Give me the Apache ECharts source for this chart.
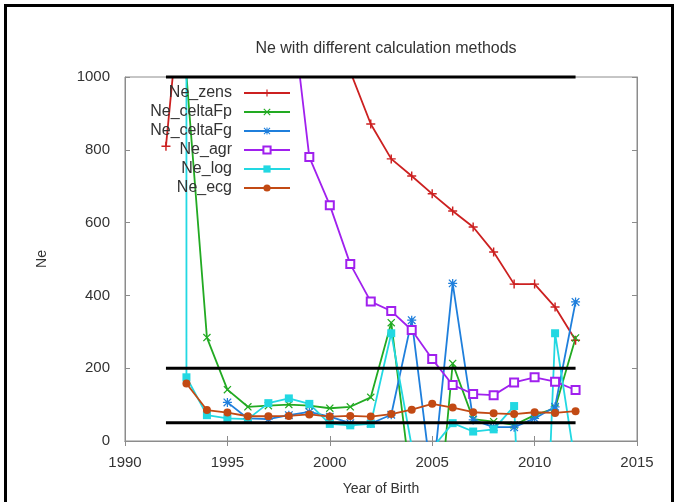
<!DOCTYPE html>
<html>
<head>
<meta charset="utf-8">
<script src="https://cdn.jsdelivr.net/npm/echarts@6/dist/echarts.min.js"></script>
<style>
html,body{margin:0;padding:0;background:#fff;}
#chart{width:675px;height:502px;}
</style>
</head>
<body>
<div id="chart"></div>
<script>
// ---- data ----
var years = [1992,1993,1994,1995,1996,1997,1998,1999,2000,2001,2002,2003,2004,2005,2006,2007,2008,2009,2010,2011,2012];
var neZens    = [810,1390,null,null,null,null,null,null,null,1015,871,775,728,679,632,588,519,431,431,368,277];
var neCeltaFp = [null,1005,284,141,94,97,100,97,90,94,120,325,-133,-400,213,60,53,44,71,90,283];
var neCeltaFg = [null,null,null,106,62,60,71,80,67,49,48,72,332,-120,433,58,38,38,62,94,382];
var neAgr     = [null,null,null,null,null,null,1260,780,648,486,383,357,305,225,154,129,126,161,175,163,140];
var neLog     = [null,175,71,62,60,104,117,102,47,43,47,296,-15,-20,49,26,32,96,-1100,296,-69];
var neLogLead = [1993, 1150];  // vertical rise at 1993 in the reference
var neEcg     = [null,158,85,78,68,68,69,73,67,69,67,74,86,102,92,79,76,74,79,77,82];
var thresholds = [1000, 200, 50];
var thresholdRange = [1992, 2012];
var xTicks = [1990, 2015, 5];
var yTicks = [0, 1000, 200];

var names = ['Ne_zens','Ne_celtaFp','Ne_celtaFg','Ne_agr','Ne_log','Ne_ecg'];
var colors = ['#cc2020','#22aa22','#1f7fdc','#a020ee','#22d8e2','#c24a14'];

function pairs(vals, keepNulls) {
  var out = [];
  for (var i = 0; i < years.length; i++) {
    if (vals[i] === null && !keepNulls) continue;
    out.push([years[i], vals[i] === null ? '-' : vals[i]]);
  }
  return out;
}

var plusPath = 'path://M4.2,0H5.8V4.2H10V5.8H5.8V10H4.2V5.8H0V4.2H4.2Z';
var xPath = 'path://M0,1.1L1.1,0L5,3.9L8.9,0L10,1.1L6.1,5L10,8.9L8.9,10L5,6.1L1.1,10L0,8.9L3.9,5Z';
var starPath = 'path://M4.3,0H5.7V4.3H10V5.7H5.7V10H4.3V5.7H0V4.3H4.3Z M0.3,1.3L1.3,0.3L5,4L8.7,0.3L9.7,1.3L6,5L9.7,8.7L8.7,9.7L5,6L1.3,9.7L0.3,8.7L4,5Z';

var logData = [neLogLead].concat(pairs(neLog, false));

var seriesDefs = [
  {data: pairs(neZens, true), symbol: plusPath, size: 9},
  {data: pairs(neCeltaFp, true), symbol: xPath, size: 8},
  {data: pairs(neCeltaFg, true), symbol: starPath, size: 9},
  {data: pairs(neAgr, true), symbol: 'emptyRect', size: 8},
  {data: logData, symbol: 'rect', size: 8},
  {data: pairs(neEcg, true), symbol: 'circle', size: 8}
];

var series = seriesDefs.map(function (d, i) {
  return {
    name: names[i],
    type: 'line',
    data: d.data,
    symbol: d.symbol,
    symbolSize: d.size,
    showAllSymbol: true,
    connectNulls: false,
    clip: true,
    color: colors[i],
    lineStyle: {width: 1.8, color: colors[i]},
    itemStyle: {color: colors[i], borderColor: colors[i], borderWidth: i === 3 ? 1.5 : 0},
    emphasis: {disabled: true},
    animation: false,
    z: 2
  };
});

thresholds.forEach(function (t) {
  series.push({
    type: 'line',
    data: [[thresholdRange[0], t], [thresholdRange[1], t]],
    symbol: 'none',
    clip: false,
    lineStyle: {width: 3, color: '#000'},
    emphasis: {disabled: true},
    silent: true,
    animation: false,
    z: 3
  });
});

var axisGray = '#8c8c8c';
var font = 'Liberation Sans, Arial, sans-serif';
function plain(v) { return String(v); }

var chart = echarts.init(document.getElementById('chart'), null, {renderer: 'canvas'});
chart.setOption({
  animation: false,
  backgroundColor: '#fff',
  textStyle: {fontFamily: font},
  title: {
    text: 'Ne with different calculation methods',
    left: 381, top: 36, textAlign: 'center',
    textStyle: {fontSize: 16, fontWeight: 'normal', color: '#333', fontFamily: font}
  },
  grid: {left: 125, right: 38, top: 77, bottom: 61, show: true, borderColor: axisGray, borderWidth: 1, backgroundColor: 'transparent'},
  legend: {
    data: names,
    orient: 'vertical',
    left: 145, top: 85,
    align: 'right',
    itemWidth: 46, itemHeight: 9, itemGap: 3,
    padding: 0,
    selectedMode: false,
    formatter: function (n) { return '{a|' + n + '}'; },
    textStyle: {
      rich: {a: {width: 87, align: 'right', fontSize: 16, color: '#333', fontFamily: font, padding: [0, 7, 0, 0], lineHeight: 16}}
    }
  },
  xAxis: [{
    type: 'value', min: xTicks[0], max: xTicks[1], interval: xTicks[2],
    name: 'Year of Birth', nameLocation: 'middle', nameGap: 41,
    nameTextStyle: {fontSize: 14, color: '#333', fontFamily: font},
    axisLine: {show: true, lineStyle: {color: axisGray, width: 1}},
    axisTick: {show: true, inside: true, length: 5, lineStyle: {color: axisGray}},
    axisLabel: {fontSize: 15, color: '#333', margin: 14, fontFamily: font, formatter: plain},
    splitLine: {show: false}
  }, {
    type: 'value', position: 'top', min: xTicks[0], max: xTicks[1], interval: xTicks[2],
    axisLine: {show: true, lineStyle: {color: axisGray, width: 1}},
    axisTick: {show: true, inside: true, length: 5, lineStyle: {color: axisGray}},
    axisLabel: {show: false},
    splitLine: {show: false}
  }],
  yAxis: [{
    type: 'value', min: yTicks[0], max: yTicks[1], interval: yTicks[2],
    name: 'Ne', nameLocation: 'middle', nameGap: 76,
    nameTextStyle: {fontSize: 14, color: '#333', fontFamily: font},
    axisLine: {show: true, lineStyle: {color: axisGray, width: 1}},
    axisTick: {show: true, inside: true, length: 5, lineStyle: {color: axisGray}},
    axisLabel: {fontSize: 15, color: '#333', margin: 15, fontFamily: font, formatter: plain},
    splitLine: {show: false}
  }, {
    type: 'value', position: 'right', min: yTicks[0], max: yTicks[1], interval: yTicks[2],
    axisLine: {show: true, lineStyle: {color: axisGray, width: 1}},
    axisTick: {show: true, inside: true, length: 5, lineStyle: {color: axisGray}},
    axisLabel: {show: false},
    splitLine: {show: false}
  }],
  graphic: [{
    type: 'rect', silent: true,
    shape: {x: 5.5, y: 5.5, width: 667, height: 510},
    style: {fill: 'none', stroke: '#000', lineWidth: 3}
  }],
  series: series
});
</script>
</body>
</html>
